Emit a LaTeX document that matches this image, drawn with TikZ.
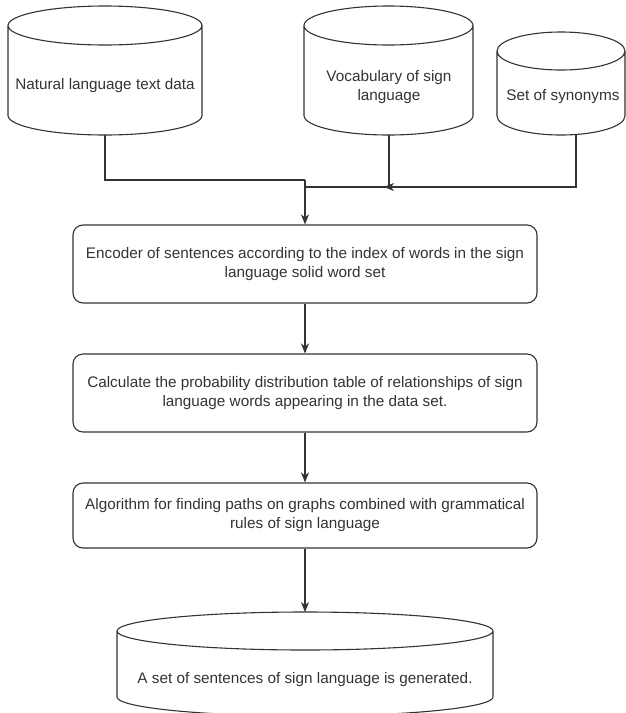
\documentclass[tikz,border=0pt]{standalone}
\usepackage{fontspec}
\setmainfont{Liberation Sans}
\usetikzlibrary{arrows.meta}
\definecolor{ink}{HTML}{333333}

% drum outline: left, right, top, bottom, ellipse radius
\newcommand\drum[5]{%
  \draw[ink,line width=1.1pt] (#1,#3+#5) -- (#1,#4-#5)
    arc[start angle=180,end angle=360,x radius={(#2-#1)/2*1pt},y radius=#5pt]
    -- (#2,#3+#5)
    arc[start angle=0,end angle=360,x radius={(#2-#1)/2*1pt},y radius=#5pt];
}

\begin{document}
\begin{tikzpicture}[x=1pt,y=-1pt,font=\fontsize{15.3}{19}\selectfont]
\useasboundingbox (0,0) rectangle (626,713);

\drum{8}{202}{6}{135}{19.5}
\drum{304}{473}{6}{135}{19.5}
\drum{497}{625}{32}{135}{19}
\drum{117}{493}{612}{716}{19}

\begin{scope}[every node/.style={text=ink,align=center}]
    \node (nat) at (105,86) {Natural language text data};
    \node (voc) at (389,87) {Vocabulary of sign\\language};
    \node (syn) at (563,97) {Set of synonyms};
    \node (gen) at (305,680) {A set of sentences of sign language is generated.};
\end{scope}

\begin{scope}[every node/.style={draw=ink,line width=1.1pt,rounded corners=10pt,
              text=ink,align=center,minimum width=464pt}]
    \node[minimum height=78pt] (enc) at (305,264)
        {Encoder of sentences according to the index of words in the sign\\language solid word set};
    \node[minimum height=78pt] (prob) at (305,393)
        {Calculate the probability distribution table of relationships of sign\\language words appearing in the data set.};
    \node[minimum height=65pt] (algo) at (305,515.5)
        {Algorithm for finding paths on graphs combined with grammatical\\rules of sign language};
\end{scope}

\coordinate (nat-b) at (105,135);
\coordinate (voc-b) at (389,135);
\coordinate (syn-b) at (576,135);
\coordinate (join) at (305,180);
\coordinate (merge) at (305,187);
\coordinate (tip) at (384,187);
\coordinate (gen-t) at (305,612);

\begin{scope}[every path/.style={draw=ink,line width=1.1pt},
              >={Stealth[length=10pt,width=8pt,inset=3pt]}]
    \draw (nat-b) |- (join);
    \draw (voc-b) |- (merge) -- (join);
    \draw[->] (syn-b) |- (tip);
    \draw[->,line width=1.8pt] (join) -- (enc.north);
    \draw[->] (enc) -- (prob);
    \draw[->] (prob) -- (algo);
    \draw[->] (algo) -- (gen-t);
\end{scope}
\end{tikzpicture}
\end{document}
